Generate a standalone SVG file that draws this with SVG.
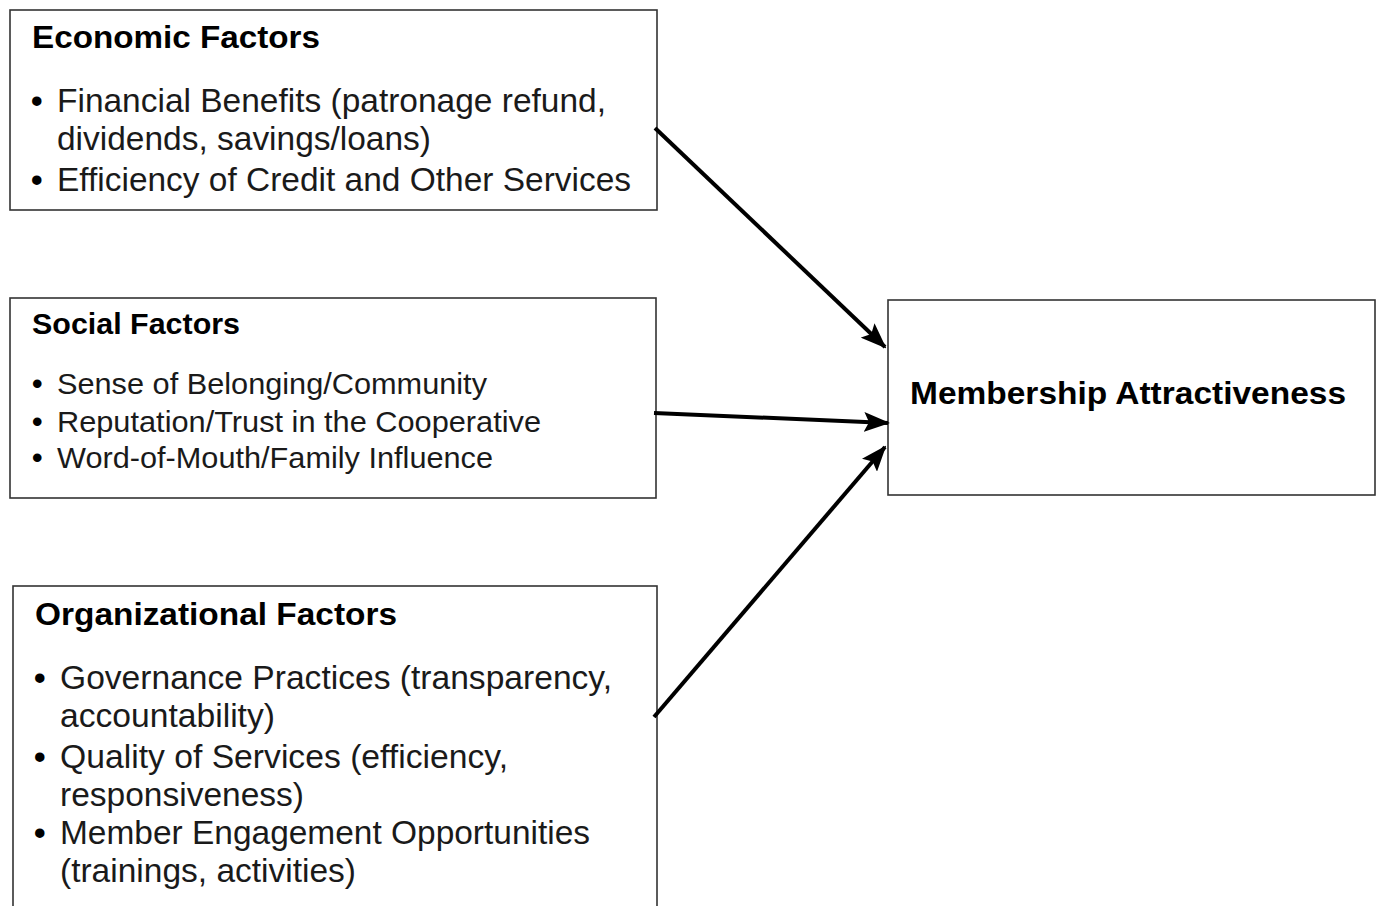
<svg xmlns="http://www.w3.org/2000/svg" width="1376" height="906" viewBox="0 0 1376 906">
  <style>
    .box { fill: #ffffff; stroke: #333333; stroke-width: 1.6; }
    .title { font-family: "Liberation Sans", Arial, sans-serif; font-weight: bold; fill: #000000; }
    .item { font-family: "Liberation Sans", Arial, sans-serif; fill: #1a1a1a; }
    .dot { font-weight: bold; fill: #000000; }
    .link { stroke: #000000; stroke-width: 4; fill: none; marker-end: url(#arrow); }
  </style>
  <defs>
    <marker id="arrow" markerUnits="userSpaceOnUse" markerWidth="26" markerHeight="20" refX="24" refY="10" orient="auto">
      <path d="M0,0 L26,10 L0,20 L5,10 Z" fill="#000000"/>
    </marker>
  </defs>
  <rect width="1376" height="906" fill="#ffffff"/>

  <!-- Economic factors -->
  <g id="economic">
    <rect class="box" x="10" y="10" width="647" height="200"/>
    <text class="title" x="32" y="48" font-size="32" textLength="288" lengthAdjust="spacingAndGlyphs">Economic Factors</text>
    <g class="item" font-size="33">
      <text class="dot" x="31" y="112">•</text>
      <text x="57" y="112" textLength="549" lengthAdjust="spacingAndGlyphs">Financial Benefits (patronage refund,</text>
      <text x="57" y="150" textLength="374" lengthAdjust="spacingAndGlyphs">dividends, savings/loans)</text>
      <text class="dot" x="31" y="191">•</text>
      <text x="57" y="191" textLength="574" lengthAdjust="spacingAndGlyphs">Efficiency of Credit and Other Services</text>
    </g>
  </g>

  <!-- Social factors -->
  <g id="social">
    <rect class="box" x="10" y="298" width="646" height="200"/>
    <text class="title" x="32" y="334" font-size="29" textLength="208" lengthAdjust="spacingAndGlyphs">Social Factors</text>
    <g class="item" font-size="30">
      <text class="dot" x="32" y="394">•</text>
      <text x="57" y="394" textLength="430" lengthAdjust="spacingAndGlyphs">Sense of Belonging/Community</text>
      <text class="dot" x="32" y="432">•</text>
      <text x="57" y="432" textLength="484" lengthAdjust="spacingAndGlyphs">Reputation/Trust in the Cooperative</text>
      <text class="dot" x="32" y="468">•</text>
      <text x="57" y="468" textLength="436" lengthAdjust="spacingAndGlyphs">Word-of-Mouth/Family Influence</text>
    </g>
  </g>

  <!-- Organizational factors -->
  <g id="organizational">
    <rect class="box" x="13" y="586" width="644" height="340"/>
    <text class="title" x="35" y="625" font-size="32" textLength="362" lengthAdjust="spacingAndGlyphs">Organizational Factors</text>
    <g class="item" font-size="33">
      <text class="dot" x="34" y="689">•</text>
      <text x="60" y="689" textLength="552" lengthAdjust="spacingAndGlyphs">Governance Practices (transparency,</text>
      <text x="60" y="727" textLength="215" lengthAdjust="spacingAndGlyphs">accountability)</text>
      <text class="dot" x="34" y="768">•</text>
      <text x="60" y="768" textLength="448" lengthAdjust="spacingAndGlyphs">Quality of Services (efficiency,</text>
      <text x="60" y="806" textLength="244" lengthAdjust="spacingAndGlyphs">responsiveness)</text>
      <text class="dot" x="34" y="844">•</text>
      <text x="60" y="844" textLength="530" lengthAdjust="spacingAndGlyphs">Member Engagement Opportunities</text>
      <text x="60" y="882" textLength="296" lengthAdjust="spacingAndGlyphs">(trainings, activities)</text>
    </g>
  </g>

  <!-- Outcome -->
  <g id="membership">
    <rect class="box" x="888" y="300" width="487" height="195"/>
    <text class="title" x="910" y="404" font-size="32" textLength="436" lengthAdjust="spacingAndGlyphs">Membership Attractiveness</text>
  </g>

  <!-- Connectors -->
  <g id="connectors">
    <line class="link" x1="655" y1="128" x2="885" y2="347"/>
    <line class="link" x1="654" y1="413" x2="888" y2="423"/>
    <line class="link" x1="654" y1="717" x2="885" y2="447"/>
  </g>
</svg>
